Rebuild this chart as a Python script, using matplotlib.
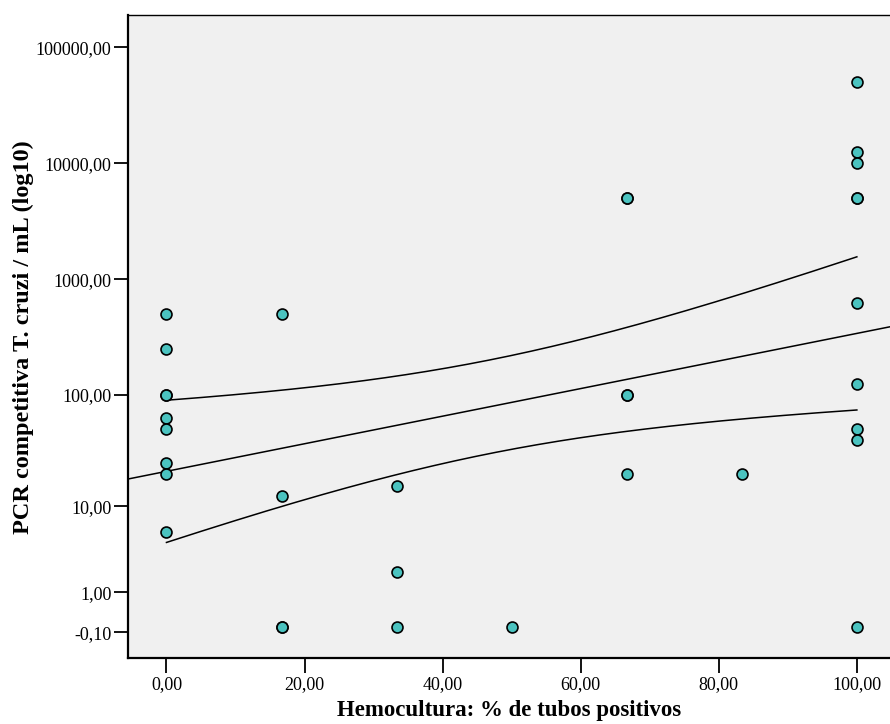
import numpy as np
import matplotlib.pyplot as plt

# % de tubos positivos (hemocultura) y carga parasitaria por PCR competitiva
hemo = [0, 0, 0, 0, 0, 0, 0, 0, 0,
        16.67, 16.67, 16.67, 16.67,
        33.33, 33.33, 33.33,
        50,
        66.67, 66.67, 66.67, 66.67, 66.67,
        83.33,
        100, 100, 100, 100, 100, 100, 100, 100, 100, 100]
pcr = [500, 250, 100, 100, 63, 50, 25, 20, 5.6,
       500, 12.5, 0, 0,
       15.6, 2, 0,
       0,
       5000, 5000, 100, 100, 20,
       20,
       50000, 12500, 10000, 5000, 5000, 625, 125, 50, 40, 0]

yticks = [-0.1, 1, 10, 100, 1000, 10000, 100000]
xticks = [0, 20, 40, 60, 80, 100]

# ajuste lineal en escala log10(y+1) (salida SPSS): constante, pendiente
# y terminos del IC 95% de la media (a + b*(x - xm)^2)
b0 = 1.343
b1 = 0.0119
ic_a = 0.163
ic_b = 9.7e-5
ic_xm = 46.9


def fwd(v):
    return np.log10(np.asarray(v, dtype=float) + 1)


def inv(t):
    return 10 ** np.asarray(t, dtype=float) - 1


def coma(v):
    return ('%.2f' % v).replace('.', ',')


plt.rcParams['font.family'] = ['Liberation Serif', 'DejaVu Serif']

fig = plt.figure(figsize=(8.9, 7.24), dpi=100)
ax = fig.add_axes([128 / 890, 1 - 658.3 / 724, 1 - 128 / 890, (658.3 - 15) / 724])
ax.set_facecolor('#f0f0f0')
ax.set_yscale('function', functions=(fwd, inv))

xmin, xmax = -5.57, 104.8
ax.set_xlim(xmin, xmax)
ax.set_ylim(inv(-0.27), inv(5.28))

xl = np.linspace(xmin, xmax, 200)
ax.plot(xl, inv(b0 + b1 * xl), color='black', lw=1.1, zorder=2)
xb = np.linspace(0, 100, 200)
half = np.sqrt(ic_a + ic_b * (xb - ic_xm) ** 2)
ax.plot(xb, inv(b0 + b1 * xb + half), color='black', lw=1.1, zorder=2)
ax.plot(xb, inv(b0 + b1 * xb - half), color='black', lw=1.1, zorder=2)

ax.scatter(hemo, pcr, s=62, facecolor='#4bc3c0', edgecolor='black',
           linewidth=1.2, zorder=3)

ax.set_xticks(xticks)
ax.set_xticklabels([coma(v) for v in xticks])
ax.set_yticks(yticks)
ax.set_yticklabels([coma(v) for v in yticks])
ax.minorticks_off()
ax.tick_params(direction='out', width=1.3, labelsize=13)
ax.tick_params(axis='y', length=10, pad=2)
ax.tick_params(axis='x', length=11, pad=2)

ax.spines['right'].set_visible(False)
ax.spines['left'].set_linewidth(1.6)
ax.spines['bottom'].set_linewidth(1.6)
ax.spines['top'].set_linewidth(1.0)

ax.set_xlabel('Hemocultura: % de tubos positivos', fontsize=16.5,
              fontweight='bold', labelpad=5)
ax.set_ylabel('PCR competitiva T. cruzi / mL (log10)', fontsize=17.5,
              fontweight='bold')
ax.yaxis.set_label_coords(-0.123, 0.5)

fig.savefig('out.png', dpi=100)
